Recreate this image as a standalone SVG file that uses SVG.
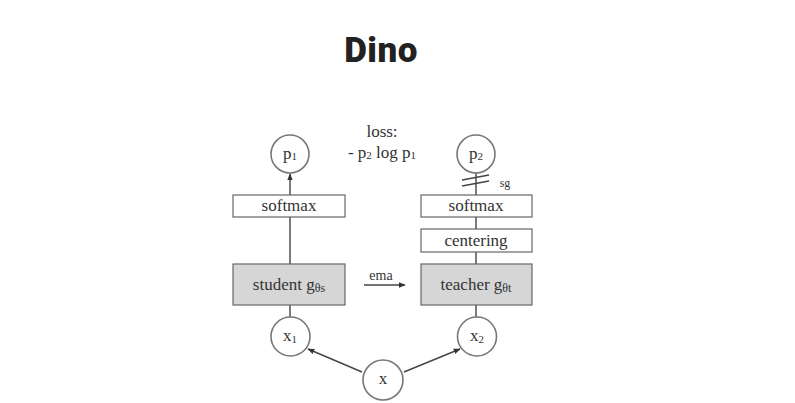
<svg xmlns="http://www.w3.org/2000/svg" width="795" height="403" viewBox="0 0 795 403">
<defs>
<marker id="ah" viewBox="0 0 10 10" refX="9" refY="5" markerWidth="5" markerHeight="5" orient="auto"><path d="M0,1 L10,5 L0,9 z" fill="#333"/></marker>
<style>
.t{font-family:"Liberation Serif",serif;fill:#333;font-size:17px;text-anchor:middle}
.n{fill:#fff;stroke:#777;stroke-width:1.6}
.b{fill:#fff;stroke:#666;stroke-width:1.2}
.g{fill:#d6d6d6;stroke:#666;stroke-width:1.2}
.l{stroke:#444;stroke-width:1.4;fill:none}
</style>
</defs>
<rect width="795" height="403" fill="#fff"/>
<text x="381" y="62" style="font-family:Roboto,'Liberation Sans',sans-serif;font-weight:900;font-size:35px;fill:#222;text-anchor:middle;letter-spacing:0.5px">Dino</text>
<g id="connectors">
<line class="l" x1="290" y1="195" x2="290" y2="174" marker-end="url(#ah)"/>
<line class="l" x1="290" y1="217" x2="290" y2="264"/>
<line class="l" x1="290" y1="305" x2="290" y2="317"/>
<line class="l" x1="476" y1="173" x2="476" y2="195"/>
<line class="l" x1="476" y1="217" x2="476" y2="229"/>
<line class="l" x1="476" y1="252" x2="476" y2="264"/>
<line class="l" x1="476" y1="305" x2="476" y2="317"/>
<line class="l" x1="462" y1="180" x2="489" y2="175"/>
<line class="l" x1="462" y1="186" x2="489" y2="181"/>
<line class="l" x1="362" y1="372" x2="308" y2="349" marker-end="url(#ah)"/>
<line class="l" x1="404" y1="372" x2="460" y2="349" marker-end="url(#ah)"/>
<line class="l" x1="364" y1="285" x2="405" y2="285" marker-end="url(#ah)"/>
<text class="t" x="381" y="280" style="font-size:14px">ema</text>
<text class="t" x="505" y="187" style="font-size:12px">sg</text>
</g>
<g id="loss">
<text class="t" x="382" y="137">loss:</text>
<text class="t" x="382" y="158">- p<tspan dy="1" style="font-size:11px">2</tspan><tspan dy="-1"> log p</tspan><tspan dy="1" style="font-size:11px">1</tspan></text>
</g>
<g id="p1">
<circle class="n" cx="290" cy="154" r="19"/>
<text class="t" x="290" y="159">p<tspan dy="1" style="font-size:11px">1</tspan></text>
</g>
<g id="softmax1">
<rect class="b" x="233" y="195" width="112" height="22"/>
<text class="t" x="289" y="211">softmax</text>
</g>
<g id="student">
<rect class="g" x="233" y="264" width="112" height="41"/>
<text class="t" x="289" y="290">student g<tspan dy="2" style="font-size:12px">θs</tspan></text>
</g>
<g id="x1">
<circle class="n" cx="290.5" cy="336.5" r="19.5"/>
<text class="t" x="290" y="341">x<tspan dy="2" style="font-size:11px">1</tspan></text>
</g>
<g id="x">
<circle class="n" cx="383" cy="380" r="20"/>
<text class="t" x="383" y="384">x</text>
</g>
<g id="x2">
<circle class="n" cx="477" cy="336.5" r="19.5"/>
<text class="t" x="477" y="341">x<tspan dy="2" style="font-size:11px">2</tspan></text>
</g>
<g id="p2">
<circle class="n" cx="476" cy="154" r="19"/>
<text class="t" x="476" y="159">p<tspan dy="1" style="font-size:11px">2</tspan></text>
</g>
<g id="softmax2">
<rect class="b" x="421" y="195" width="111" height="22"/>
<text class="t" x="476" y="211">softmax</text>
</g>
<g id="centering">
<rect class="b" x="421" y="229" width="111" height="23"/>
<text class="t" x="476" y="246">centering</text>
</g>
<g id="teacher">
<rect class="g" x="421" y="264" width="111" height="41"/>
<text class="t" x="476" y="290">teacher g<tspan dy="2" style="font-size:12px">θt</tspan></text>
</g>
</svg>
